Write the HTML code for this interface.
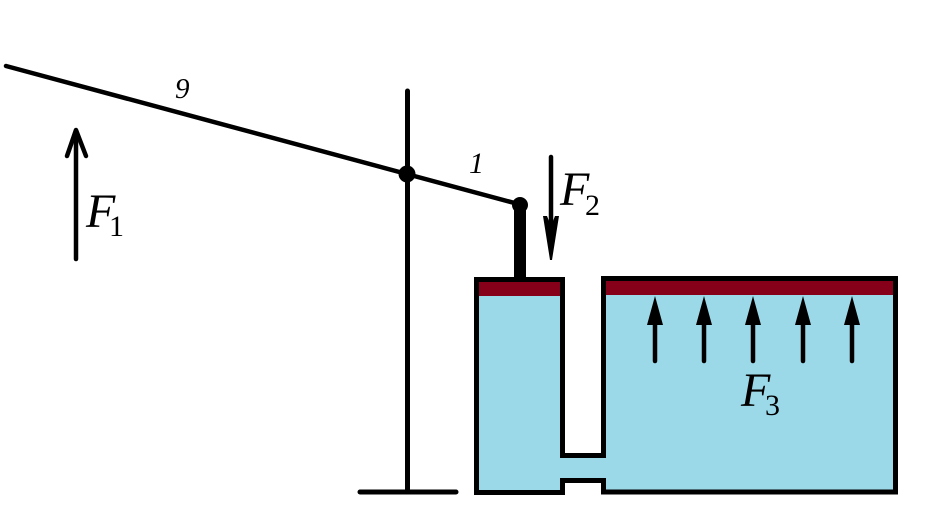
<!DOCTYPE html>
<html>
<head>
<meta charset="utf-8">
<style>
html,body{margin:0;padding:0;background:#fff;}
svg{display:block;}
text{font-family:"Liberation Serif",serif;fill:#000;}
</style>
</head>
<body>
<svg width="928" height="524" viewBox="0 0 928 524" xmlns="http://www.w3.org/2000/svg">
  <rect x="0" y="0" width="928" height="524" fill="#fff"/>

  <!-- container -->
  <path d="M476.5 279.5 L562.5 279.5 L562.5 455.5 L603.5 455.5 L603.5 278.5 L895.5 278.5 L895.5 492 L603.5 492 L603.5 480.5 L562.5 480.5 L562.5 492.5 L476.5 492.5 Z"
        fill="#9bd9e9" stroke="#000" stroke-width="5" stroke-linejoin="miter"/>
  <!-- pistons -->
  <rect x="479" y="282" width="81" height="14" fill="#850018"/>
  <rect x="606" y="281" width="287" height="14" fill="#850018"/>

  <!-- post and base -->
  <line x1="407.5" y1="91" x2="407.5" y2="492" stroke="#000" stroke-width="5" stroke-linecap="round"/>
  <line x1="360" y1="492" x2="456" y2="492" stroke="#000" stroke-width="5" stroke-linecap="round"/>

  <!-- lever -->
  <line x1="6" y1="66" x2="520" y2="204.5" stroke="#000" stroke-width="4.5" stroke-linecap="round"/>
  <circle cx="407" cy="174" r="8.5" fill="#000"/>

  <!-- rod -->
  <line x1="520" y1="205" x2="520" y2="278" stroke="#000" stroke-width="12"/>
  <circle cx="520" cy="205" r="8" fill="#000"/>

  <!-- F1 arrow -->
  <line x1="76" y1="131" x2="76" y2="259" stroke="#000" stroke-width="4.5" stroke-linecap="round"/>
  <polyline points="67,156 76,130 86,156" fill="none" stroke="#000" stroke-width="4.5" stroke-linecap="round" stroke-linejoin="round"/>

  <!-- F2 arrow -->
  <line x1="551" y1="157" x2="551" y2="245" stroke="#000" stroke-width="4.5" stroke-linecap="round"/>
  <polygon points="543,216 547,216 551,226 555,216 559,216 552,260 550,260" fill="#000"/>

  <!-- F3 arrows -->
  <g fill="#000" stroke="#000">
    <line x1="655" y1="310" x2="655" y2="361" stroke-width="4.5" stroke-linecap="round"/>
    <polygon points="655,296 647,325 663,325" stroke="none"/>
    <line x1="704" y1="310" x2="704" y2="361" stroke-width="4.5" stroke-linecap="round"/>
    <polygon points="704,296 696,325 712,325" stroke="none"/>
    <line x1="753" y1="310" x2="753" y2="361" stroke-width="4.5" stroke-linecap="round"/>
    <polygon points="753,296 745,325 761,325" stroke="none"/>
    <line x1="803" y1="310" x2="803" y2="361" stroke-width="4.5" stroke-linecap="round"/>
    <polygon points="803,296 795,325 811,325" stroke="none"/>
    <line x1="852" y1="310" x2="852" y2="361" stroke-width="4.5" stroke-linecap="round"/>
    <polygon points="852,296 844,325 860,325" stroke="none"/>
  </g>

  <!-- labels -->
  <text x="175" y="98" font-size="29" font-style="italic">9</text>
  <text x="469" y="173" font-size="30" font-style="italic">1</text>

  <text x="86" y="227" font-size="48" font-style="italic">F</text>
  <text x="109" y="236" font-size="30">1</text>

  <text x="560" y="205" font-size="48" font-style="italic">F</text>
  <text x="585" y="215" font-size="30">2</text>

  <text x="741" y="406" font-size="48" font-style="italic">F</text>
  <text x="765" y="415" font-size="30">3</text>
</svg>
</body>
</html>
